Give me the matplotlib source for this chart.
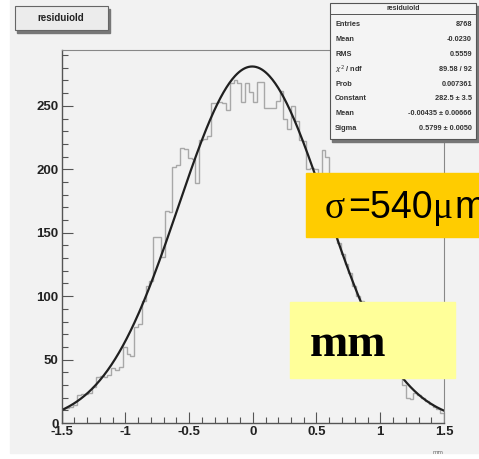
import numpy as np
import matplotlib.pyplot as plt
from matplotlib.patches import Rectangle

# residual histogram, 100 bins over [-1.5, 1.5] mm
x_lo, x_hi = -1.5, 1.5
counts = [11, 12, 13, 14, 22, 23, 23, 24, 28, 36,
          37, 36, 38, 43, 42, 44, 60, 54, 53, 76,
          78, 96, 108, 112, 147, 147, 131, 167, 166, 202,
          203, 217, 216, 209, 208, 189, 223, 224, 226, 252,
          252, 253, 252, 247, 268, 270, 268, 253, 268, 261,
          253, 269, 269, 248, 248, 248, 254, 262, 240, 232,
          250, 238, 223, 222, 200, 201, 200, 186, 215, 210,
          160, 150, 142, 133, 125, 118, 108, 100, 96, 86,
          80, 74, 67, 62, 57, 52, 46, 42, 38, 30,
          20, 19, 24, 22, 20, 17, 15, 13, 11, 8]

# gaussian fit
fit_const = 281.0
fit_mean = -0.00435
fit_sigma = 0.58

stat_names = ["Entries", "Mean", "RMS", r"$\chi^2$ / ndf", "Prob",
              "Constant", "Mean", "Sigma"]
stat_values = ["8768", "-0.0230", "0.5559", "89.58 / 92", "0.007361",
               "282.5 \u00b1 3.5", "-0.00435 \u00b1 0.00666", "0.5799 \u00b1 0.0050"]

W, H = 479, 459
fig = plt.figure(figsize=(W / 100, H / 100), dpi=100)
fig.patch.set_facecolor("white")


def fx(px):
    return px / W


def fy(py):
    return 1 - py / H


bg = "#f2f2f2"
fig.patches.append(Rectangle((fx(10), fy(453)), fx(W) - fx(10), fy(0) - fy(453),
                             transform=fig.transFigure, color=bg, zorder=-5))

left, right, top, bottom = 61.5, 444, 50, 423
ax = fig.add_axes([fx(left), fy(bottom), fx(right) - fx(left), fy(top) - fy(bottom)])
ax.set_facecolor(bg)

edges = np.linspace(x_lo, x_hi, len(counts) + 1)
ax.stairs(counts, edges, color="#a8a8a8", lw=1.0)

xs = np.linspace(x_lo, x_hi, 400)
ax.plot(xs, fit_const * np.exp(-0.5 * ((xs - fit_mean) / fit_sigma) ** 2),
        color="#202020", lw=1.6)

ax.set_xlim(x_lo, x_hi)
ax.set_ylim(0, 294)
ax.set_xticks([-1.5, -1, -0.5, 0, 0.5, 1, 1.5])
ax.set_xticklabels(["-1.5", "-1", "-0.5", "0", "0.5", "1", "1.5"])
ax.set_xticks(np.arange(-1.5, 1.51, 0.1), minor=True)
ax.set_yticks([0, 50, 100, 150, 200, 250])
ax.set_yticks(np.arange(0, 291, 10), minor=True)
ax.tick_params(which="both", direction="in", color="#555555", width=0.8,
               top=False, right=False)
ax.tick_params(which="major", length=8, labelsize=9.5, pad=2)
ax.tick_params(which="minor", length=4)
for lab in ax.get_xticklabels() + ax.get_yticklabels():
    lab.set_fontfamily("Liberation Sans")
    lab.set_fontweight("bold")
    lab.set_color("#222222")
for side in ["left", "bottom"]:
    ax.spines[side].set_color("#555555")
    ax.spines[side].set_linewidth(1.0)
for side in ["top", "right"]:
    ax.spines[side].set_color("#888888")
    ax.spines[side].set_linewidth(0.8)

fig.text(fx(438), fy(452), "mm", fontsize=4, color="#666666",
         ha="center", va="center")

# title box with shadow
fig.patches.append(Rectangle((fx(17), fy(33)), fx(93), fy(0) - fy(24),
                             transform=fig.transFigure, color="#777777", zorder=3))
fig.patches.append(Rectangle((fx(15), fy(30)), fx(93), fy(0) - fy(24),
                             transform=fig.transFigure, facecolor="#ececec",
                             edgecolor="#666666", lw=0.8, zorder=4))
fig.text(fx(61), fy(18), "residuiold", fontsize=7, fontweight="bold",
         family="Liberation Sans", ha="center", va="center", color="#222222", zorder=5)

# statistics box with shadow
sx0, sx1, sy0, sy1 = 330, 476, 3, 139
fig.patches.append(Rectangle((fx(sx0 + 2), fy(sy1 + 3)), fx(sx1 - sx0), fy(0) - fy(sy1 - sy0),
                             transform=fig.transFigure, color="#777777", zorder=3))
fig.patches.append(Rectangle((fx(sx0), fy(sy1)), fx(sx1 - sx0), fy(0) - fy(sy1 - sy0),
                             transform=fig.transFigure, facecolor="#f4f4f4",
                             edgecolor="#555555", lw=0.8, zorder=4))
fig.lines.append(plt.Line2D([fx(sx0), fx(sx1)], [fy(14), fy(14)],
                            transform=fig.transFigure, color="#555555", lw=0.7, zorder=5))
fig.text(fx((sx0 + sx1) / 2), fy(8.5), "residuiold", fontsize=5, fontweight="bold",
         family="Liberation Sans", ha="center", va="center", color="#333333", zorder=5)
for k, (name, val) in enumerate(zip(stat_names, stat_values)):
    yy = fy(25 + k * 14.8)
    fig.text(fx(sx0 + 5), yy, name, fontsize=5.3, fontweight="bold", family="Liberation Sans",
             ha="left", va="center", color="#333333", zorder=5)
    fig.text(fx(sx1 - 4), yy, val, fontsize=5.3, fontweight="bold", family="Liberation Sans",
             ha="right", va="center", color="#333333", zorder=5)

# annotation boxes: greek letters in a serif face, the rest sans
fig.patches.append(Rectangle((fx(306), fy(237)), fx(W) - fx(306), fy(173) - fy(237),
                             transform=fig.transFigure, color="#ffcc00", zorder=6))
sigma_parts = [("\u03c3", 325, "Liberation Serif"), ("=540", 348, "Liberation Sans"),
               ("\u03bc", 433, "Liberation Serif"), ("m", 454, "Liberation Sans")]
for txt, px, fam in sigma_parts:
    fig.text(fx(px), fy(218), txt, fontsize=27, family=fam,
             ha="left", va="baseline", color="black", zorder=7)

fig.patches.append(Rectangle((fx(290), fy(378)), fx(455) - fx(290), fy(302) - fy(378),
                             transform=fig.transFigure, color="#ffff99", zorder=6))
fig.text(fx(310), fy(345), "mm", fontsize=33, family="Liberation Serif",
         fontweight="bold", ha="left", va="center", color="black", zorder=7)

fig.savefig("out.png", dpi=100, facecolor=fig.get_facecolor())
